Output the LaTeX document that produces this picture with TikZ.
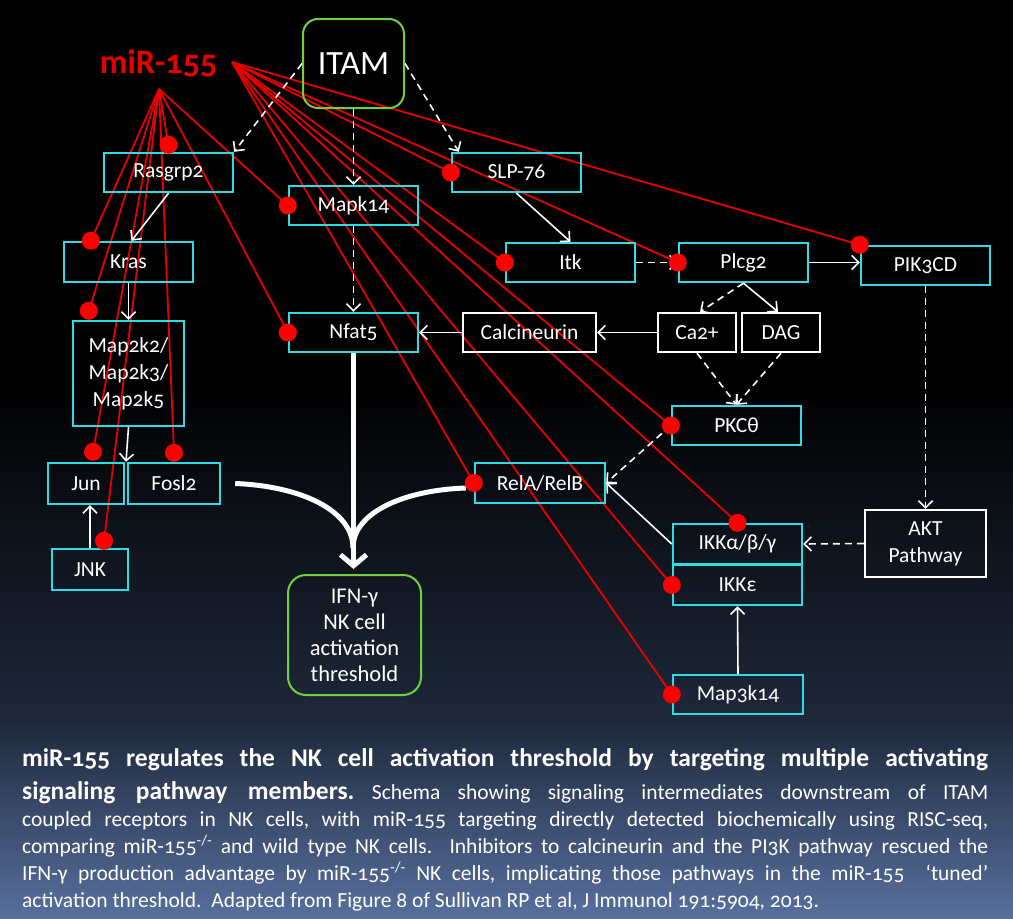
\documentclass[tikz,border=0pt]{standalone}
\usepackage{fontspec}
\setmainfont{Carlito}[Numbers=OldStyle]
\usetikzlibrary{arrows.meta,calc}
\pgfdeclarelayer{bg}
\pgfdeclarelayer{inhib}
\pgfsetlayers{bg,inhib,main}
\definecolor{boxcyan}{RGB}{45,220,228}
\definecolor{itamgreen}{RGB}{112,208,62}
\definecolor{mirred}{RGB}{232,0,0}
\definecolor{dotred}{RGB}{255,0,0}
\definecolor{midblue}{RGB}{30,40,58}
\definecolor{lowblue}{RGB}{88,112,158}

\begin{document}
\begin{tikzpicture}[x=1pt, y=-1pt, >={Straight Barb[length=7pt,width=14pt]}]
\tikzstyle{gene}=[draw=boxcyan, line width=2.4pt, text=white, inner sep=0pt, minimum width=129pt, minimum height=39pt, align=center, font=\fontsize{21.5}{27}\selectfont]
\tikzstyle{messenger}=[gene, draw=white]
\tikzstyle{start}=[draw=itamgreen, line width=2pt, rounded corners=15pt, text=white, inner sep=0pt, align=center]
\tikzstyle{wline}=[draw=white, line width=1.6pt, ->]
\tikzstyle{wdash}=[wline, dash pattern=on 7pt off 5pt]
\tikzstyle{inh}=[draw=mirred, line width=1.8pt]
\tikzstyle{dot}=[circle, fill=dotred, inner sep=0pt, minimum size=18pt]
\tikzstyle{bigflow}=[draw=white, line width=5pt]
\useasboundingbox (0,0) rectangle (1013,919);
\begin{pgfonlayer}{bg}
\fill[black] (0,0) rectangle (1013,381);
\shade[top color=black, bottom color=midblue] (0,380) rectangle (1013,721);
\shade[top color=midblue, bottom color=lowblue] (0,720) rectangle (1013,919);
\end{pgfonlayer}
\node[text=mirred, font=\fontsize{34}{34}\selectfont\bfseries] (mir) at (158.5,63) {miR-155};
\coordinate (mA) at (232,62);
\coordinate (mB) at (159,89);
\node[start, minimum width=101pt, minimum height=89pt, font=\fontsize{34}{34}\selectfont] (itam) at (353.5,63.5) {ITAM};
\node[gene] (rasgrp) at (168.5,172.5) {Rasgrp2};
\node[gene] (mapk) at (353.5,205.5) {Mapk14};
\node[gene] (slp) at (516.5,172.5) {SLP-76};
\node[gene, minimum height=40pt] (kras) at (128.5,262) {Kras};
\node[gene] (itk) at (570.5,262.5) {Itk};
\node[gene] (plcg) at (743.5,262.5) {Plcg2};
\node[gene] (pik) at (925.5,265.5) {PIK3CD};
\node[gene, minimum width=111pt, minimum height=105pt] (mapkk) at (128.5,373.5) {Map2k2/\\Map2k3/\\Map2k5};
\node[gene] (nfat) at (353.5,332.5) {Nfat5};
\node[messenger, minimum width=133pt] (calc) at (529.5,332.5) {Calcineurin};
\node[messenger, minimum width=78pt] (ca) at (697,332.5) {Ca2+};
\node[messenger, minimum width=78pt] (dag) at (781,332.5) {DAG};
\node[gene] (pkc) at (736.5,425.5) {PKCθ};
\node[gene, minimum width=76pt, minimum height=41pt] (jun) at (86,483.5) {Jun};
\node[gene, minimum width=92pt, minimum height=41pt] (fosl) at (174,483.5) {Fosl2};
\node[gene, minimum width=130pt, minimum height=40pt] (rel) at (540,483) {RelA/RelB};
\node[gene, minimum height=40pt] (ikka) at (737.5,544) {IKKα/β/γ};
\node[gene, minimum height=40pt] (ikke) at (737.5,585) {IKKε};
\node[messenger, minimum width=121pt, minimum height=67pt] (akt) at (925.5,543.5) {AKT\\Pathway};
\node[gene, minimum width=76pt, minimum height=41pt] (jnk) at (90,569.5) {JNK};
\node[start, rounded corners=18pt, minimum width=133pt, minimum height=120pt, font=\fontsize{22.5}{26}\selectfont] (ifn) at (354.5,635) {IFN-γ\\NK cell\\activation\\threshold};
\node[gene, minimum width=130pt] (mapkkk) at (738,694.5) {Map3k14};
\coordinate (tRas) at ($(rasgrp.north)+(0,-7)$);
\coordinate (tKras) at ($(kras.north west)+(28,0)$);
\coordinate (tMkk) at ($(mapkk.north west)+(17,-9)$);
\coordinate (tJun) at ($(jun.north)+(7,-10)$);
\coordinate (tFos) at ($(fosl.north)+(0,-9)$);
\coordinate (tJnk) at ($(jnk.north)+(14,-7)$);
\draw[wdash] (itam.west) -- (rasgrp.north east);
\draw[wdash] (itam.south) -- (mapk.north);
\draw[wdash] (itam.east) -- ($(slp.north west)+(8,0)$);
\draw[wdash] (mapk.south) -- (nfat.north);
\draw[wdash] (itk.east) -- (plcg.west);
\draw[wdash] (plcg.south) -- ($(ca.north)+(3,0)$);
\draw[wdash] (ca.south) -- (pkc.north);
\draw[wdash] (dag.south) -- (pkc.north);
\draw[wdash] (pkc.west) -- (rel.east);
\draw[wdash] (pik.south) -- (akt.north);
\draw[wdash] (akt.west) -- (ikka.east);
\draw[wline] (rasgrp.south) -- ($(kras.north)+(3,0)$);
\draw[wline] (kras.south) -- (mapkk.north);
\draw[wline] (mapkk.south) -- ($(jun.north east)!.5!(fosl.north west)$);
\draw[wline] (jnk.north) -- (jnk.north |- jun.south);
\draw[wline] (slp.south) -- (itk.north);
\draw[wline] (plcg.east) -- (plcg.east -| pik.west);
\draw[wline] (plcg.south) -- ($(dag.north)+(-3,0)$);
\draw[wline] (ca.west) -- (calc.east);
\draw[wline] (calc.west) -- (nfat.east);
\draw[wline] (ikka.west) -- (rel.east);
\draw[wline] (mapkkk.north) -- (ikke.south);
\draw[bigflow, -{Straight Barb[length=11pt,width=26pt]}] (nfat.south) -- ($(ifn.north)+(-1,-5)$);
\draw[bigflow] ($(fosl.east)+(14,0)$) .. controls (300,486) and (353,510) .. (353,548);
\draw[bigflow] ($(rel.west)+(-8,5)$) .. controls (405,490) and (353,512) .. (353,548);
\begin{pgfonlayer}{inhib}
\foreach \t in {tRas,tKras,tMkk,tJun,tFos,tJnk,mapk.west,nfat.west}
  \draw[inh] (mB) -- (\t);
\foreach \t in {slp.west,itk.west,plcg.west,pik.north west,pkc.west,ikka.north,ikke.west,rel.west,mapkkk.west}
  \draw[inh] (mA) -- (\t);
\end{pgfonlayer}
\foreach \t in {tRas,tKras,tMkk,tJun,tFos,tJnk,mapk.west,nfat.west,slp.west,itk.west,plcg.west,pik.north west,pkc.west,ikka.north,ikke.west,rel.west,mapkkk.west}
  \node[dot] at (\t) {};
\node[anchor=north west, inner sep=0pt, text width=966pt, align=justify, text=white, font=\fontsize{21.5}{27}\selectfont\frenchspacing] (caption) at (22,748) {{\fontsize{25.5}{27}\selectfont\bfseries miR-155 regulates the NK cell activation threshold by targeting multiple activating}\vadjust{\kern6pt}\linebreak
{\fontsize{25.5}{27}\selectfont\bfseries signaling pathway members.} Schema showing signaling intermediates downstream of ITAM\linebreak
coupled receptors in NK cells, with miR-155 targeting directly detected biochemically using RISC-seq,\linebreak
comparing miR-155\textsuperscript{-/-} and wild type NK cells.\ \ Inhibitors to calcineurin and the PI3K pathway rescued the\linebreak
IFN-γ production advantage by miR-155\textsuperscript{-/-} NK cells, implicating those pathways in the miR-155\ \ ‘tuned’\linebreak
activation threshold.\ \ Adapted from Figure 8 of Sullivan RP et al, J Immunol 191:5904, 2013.};
\end{tikzpicture}
\end{document}
